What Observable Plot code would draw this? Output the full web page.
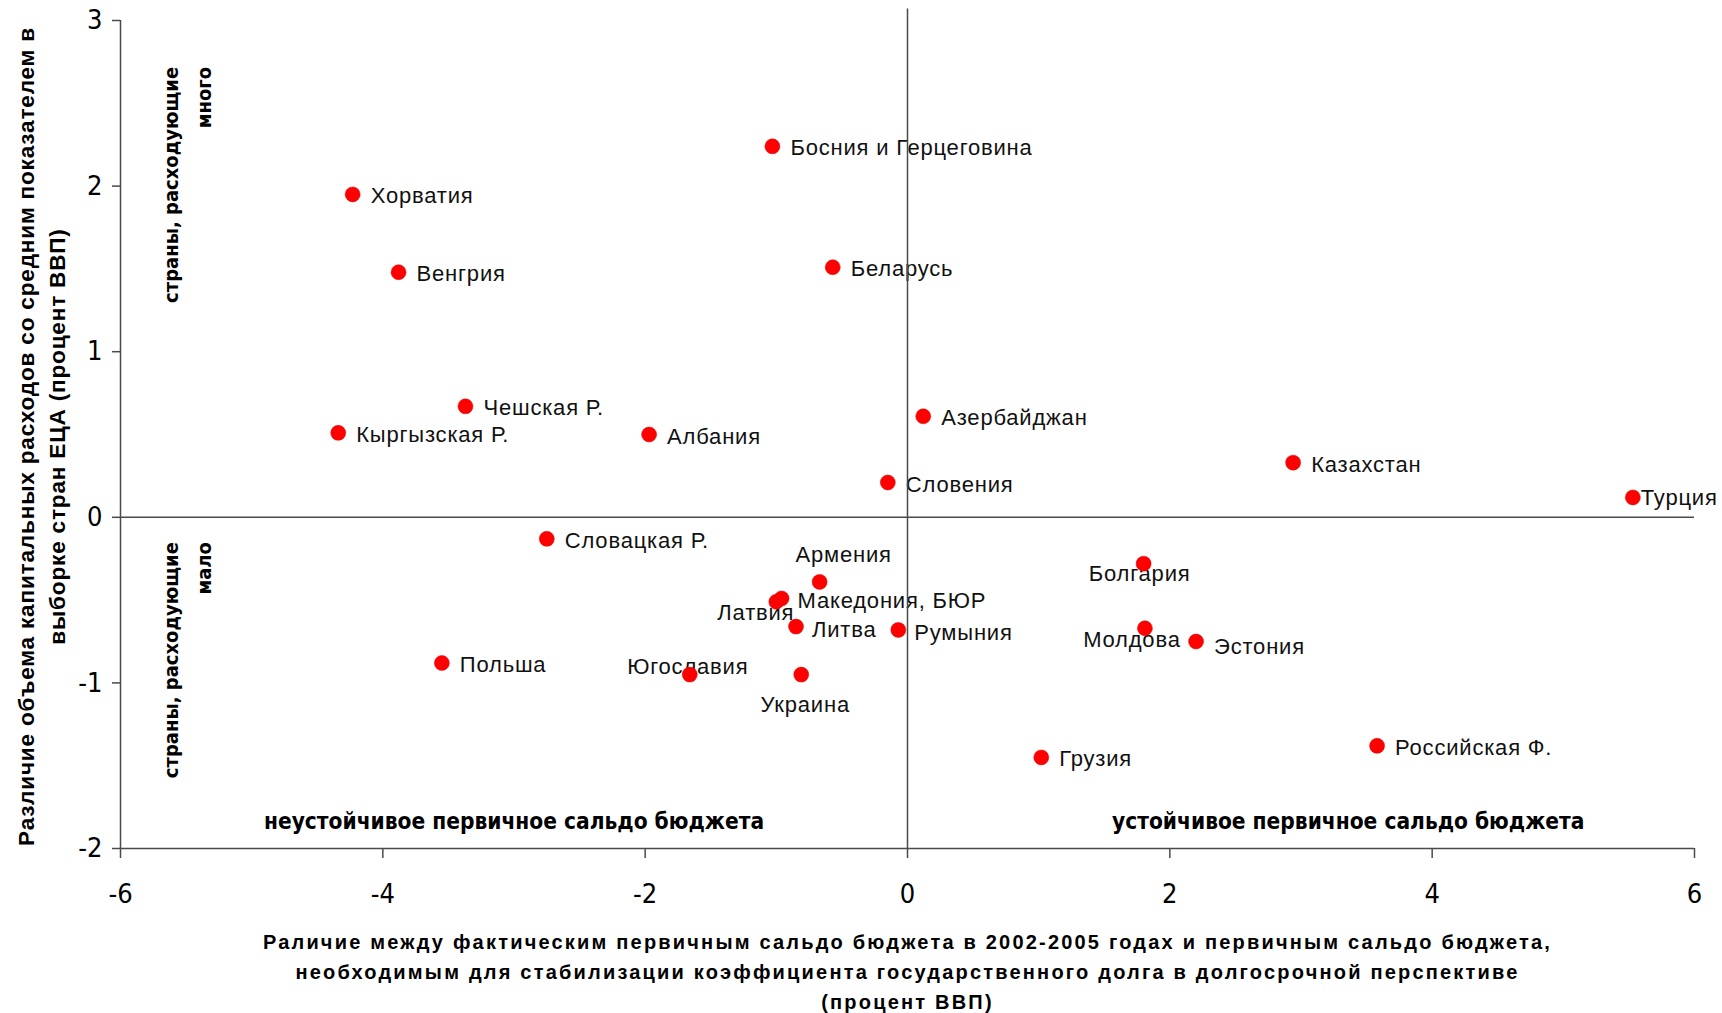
<!DOCTYPE html>
<html>
<head>
<meta charset="utf-8">
<script src="https://cdn.jsdelivr.net/npm/d3@7"></script>
<script src="https://cdn.jsdelivr.net/npm/@observablehq/plot@0.6"></script>
<style>
  html, body { margin: 0; padding: 0; background: #ffffff; }
  #chart svg { display: block; }
</style>
</head>
<body>
<div id="chart"></div>
<script>
// ---- data ----
const countries = ["Хорватия","Венгрия","Босния и Герцеговина","Беларусь","Чешская Р.","Кыргызская Р.","Албания","Азербайджан","Словения","Казахстан","Турция","Словацкая Р.","Армения","Латвия","Македония, БЮР","Литва","Румыния","Украина","Югославия","Польша","Болгария","Молдова","Эстония","Грузия","Российская Ф."];
const balanceGap = [-4.23,-3.88,-1.03,-0.57,-3.37,-4.34,-1.97,0.12,-0.15,2.94,5.53,-2.75,-0.67,-1.00,-0.96,-0.85,-0.07,-0.81,-1.66,-3.55,1.80,1.81,2.20,1.02,3.58];
const capexGap = [1.95,1.48,2.24,1.51,0.67,0.51,0.50,0.61,0.21,0.33,0.12,-0.13,-0.39,-0.51,-0.49,-0.66,-0.68,-0.95,-0.95,-0.88,-0.28,-0.67,-0.75,-1.45,-1.38];

const xTicks = [-6, -4, -2, 0, 2, 4, 6];
const yTicks = [-2, -1, 0, 1, 2, 3];

const xTitle = "Раличие между фактическим первичным сальдо бюджета в 2002-2005 годах и первичным сальдо бюджета,\nнеобходимым для стабилизации коэффициента государственного долга в долгосрочной перспективе\n(процент ВВП)";
const yTitle = "Различие объема капитальных расходов со средним показателем в\nвыборке стран ЕЦА (процент ВВП)";

const quadrantNotes = [
  {x: -3.0, y: -1.84, text: "неустойчивое первичное сальдо бюджета"},
  {x: 3.36, y: -1.84, text: "устойчивое первичное сальдо бюджета"}
];
const sideNotes = [
  {x: -5.515, y: 2.72, text: "страны, расходующие\nмного"},
  {x: -5.515, y: -0.15, text: "страны, расходующие\nмало"}
];

// ---- label placement (style) ----
const labelPlacement = [
  {names: ["Армения"], textAnchor: "middle", dx: 24, dy: -27},
  {names: ["Латвия"], textAnchor: "end", dx: 18, dy: 11},
  {names: ["Украина"], textAnchor: "middle", dx: 4, dy: 30},
  {names: ["Югославия"], textAnchor: "middle", dx: -2, dy: -8},
  {names: ["Болгария"], textAnchor: "middle", dx: -4, dy: 10},
  {names: ["Молдова"], textAnchor: "middle", dx: -13, dy: 12},
  {names: ["Турция"], textAnchor: "start", dx: 8, dy: 1},
  {names: ["Македония, БЮР", "Литва", "Румыния"], textAnchor: "start", dx: 16, dy: 3},
  {names: ["Эстония"], textAnchor: "start", dx: 18, dy: 5}
];

const data = countries.map((c, i) => ({country: c, x: balanceGap[i], y: capexGap[i]}));
const special = new Set(labelPlacement.flatMap(d => d.names));

const LABEL_FONT = "'Liberation Sans', Arial, sans-serif";
const NARROW_FONT = "'Liberation Sans Narrow', 'Arial Narrow', 'DejaVu Sans Condensed', sans-serif";
const axisColor = "#4a4a4a";

const labelMarks = [
  Plot.text(data.filter(d => !special.has(d.country)), {
    x: "x", y: "y", text: "country", textAnchor: "start", dx: 18, dy: 2,
    fontSize: 22, fill: "#111"
  }),
  ...labelPlacement.map(p => Plot.text(data.filter(d => p.names.includes(d.country)), {
    x: "x", y: "y", text: "country", textAnchor: p.textAnchor, dx: p.dx, dy: p.dy,
    fontSize: 22, fill: "#111"
  }))
];

const chart = Plot.plot({
  width: 1722,
  height: 1013,
  marginTop: 20,
  marginBottom: 165,
  marginLeft: 120,
  marginRight: 28,
  style: {fontFamily: LABEL_FONT, background: "#ffffff", color: "#000", overflow: "visible"},
  x: {domain: [-6, 6]},
  y: {domain: [-2, 3]},
  marks: [
    Plot.axisX(xTicks, {tickSize: 10, tickPadding: 25, stroke: axisColor, strokeWidth: 1.5, fontSize: 27, tickFormat: d => String(d), label: null}),
    Plot.axisY(yTicks, {tickSize: 8, tickPadding: 10, stroke: axisColor, strokeWidth: 1.5, fontSize: 27, tickFormat: d => String(d), label: null}),
    ...labelMarks,
    Plot.ruleX([0], {y1: -2, y2: 3.07, stroke: axisColor, strokeWidth: 1.5}),
    Plot.ruleY([0], {stroke: axisColor, strokeWidth: 1.5}),
    Plot.ruleX([-6], {stroke: axisColor, strokeWidth: 1.5}),
    Plot.ruleY([-2], {stroke: axisColor, strokeWidth: 1.5}),
    Plot.dot(data, {x: "x", y: "y", r: 7.5, fill: "#ff0000", stroke: "#e00000", strokeWidth: 0.5}),
    Plot.text(quadrantNotes, {x: "x", y: "y", text: "text", fontSize: 22.5, fontWeight: "bold", fill: "#000", fontFamily: NARROW_FONT}),
    Plot.text(sideNotes, {x: "x", y: "y", text: "text", rotate: -90, textAnchor: "end", lineAnchor: "middle", lineHeight: 1.65, fontSize: 20, fontWeight: "bold", fill: "#000", fontFamily: NARROW_FONT}),
    Plot.text([xTitle], {frameAnchor: "bottom", text: d => d, dy: 121, textAnchor: "middle", lineAnchor: "middle", lineHeight: 1.5, fontSize: 20, fontWeight: "bold", fill: "#000"}),
    Plot.text([yTitle], {frameAnchor: "left", text: d => d, rotate: -90, dx: -81, dy: 2, textAnchor: "middle", lineAnchor: "middle", lineHeight: 1.38, fontSize: 22.6, fontWeight: "bold", fill: "#000"})
  ]
});

const svg = d3.select(chart);
svg.selectAll("g[aria-label='x-axis tick label'], g[aria-label='y-axis tick label']")
  .attr("font-family", NARROW_FONT).attr("fill", "#000");
svg.selectAll("g[aria-label='x-axis tick label'] text, g[aria-label='y-axis tick label'] text")
  .attr("font-family", NARROW_FONT);

svg.selectAll("text").each(function() {
  const t = this.textContent;
  if (countries.includes(t)) this.setAttribute("letter-spacing", "0.8");
  if (t.startsWith("Раличие")) this.setAttribute("letter-spacing", "2.2");
  if (t.startsWith("Различие")) this.setAttribute("letter-spacing", "0.8");
});
document.getElementById("chart").appendChild(chart);
</script>
</body>
</html>
